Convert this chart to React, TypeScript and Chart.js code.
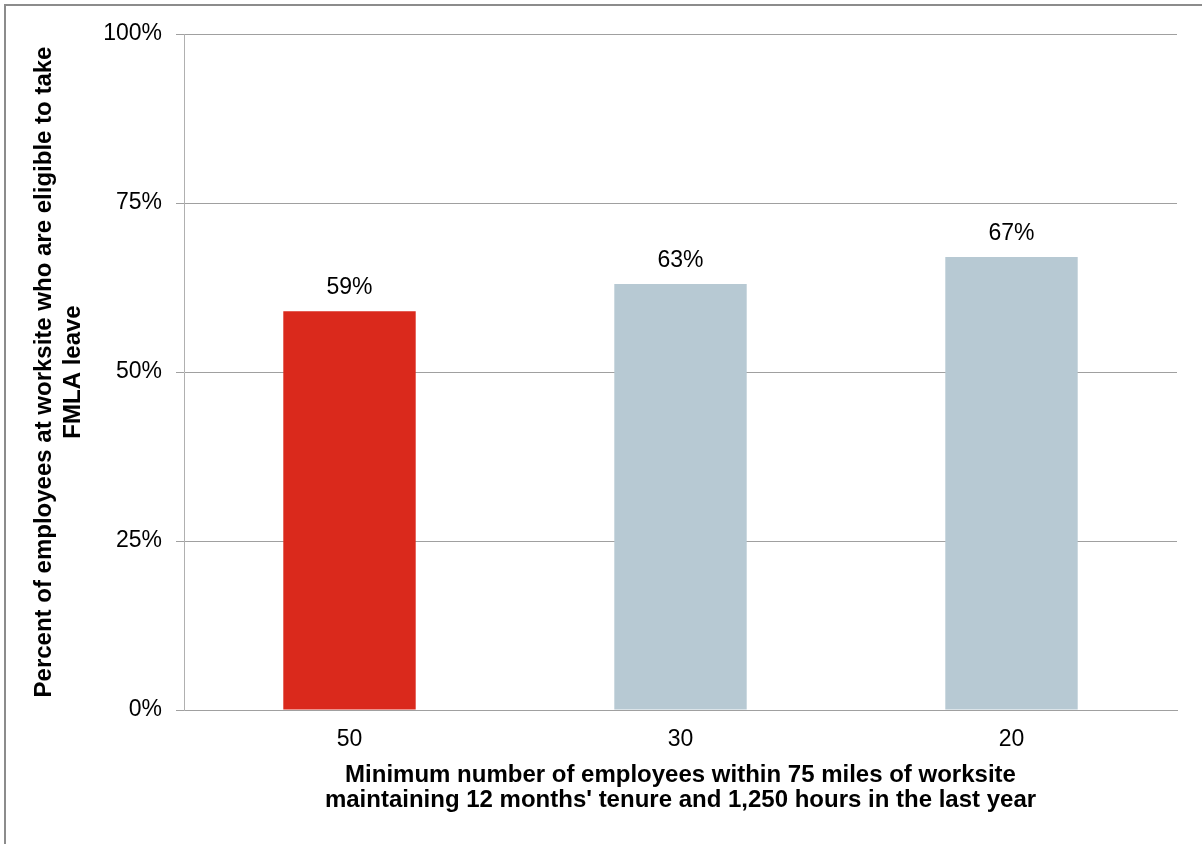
import React, { useEffect, useRef } from "react";
import { Chart, registerables } from "chart.js";

Chart.register(...registerables);

const categories = ["50", "30", "20"];
const values = [59, 63, 67];
const barColors = ["#DA291C", "#B7C9D3", "#B7C9D3"];
const yTicks = [0, 25, 50, 75, 100];
const yTitle = ["Percent of employees at worksite who are eligible to take", "FMLA leave"];
const xTitle = [
  "Minimum number of employees within 75 miles of worksite",
  "maintaining 12 months' tenure and 1,250 hours in the last year",
];

const FONT = "'Liberation Sans', Arial, sans-serif";

const dataLabels = {
  id: "dataLabels",
  afterDatasetsDraw(chart: any) {
    const ctx = chart.ctx;
    const meta = chart.getDatasetMeta(0);
    ctx.save();
    ctx.font = `23px ${FONT}`;
    ctx.fillStyle = "#000";
    ctx.textAlign = "center";
    ctx.textBaseline = "alphabetic";
    meta.data.forEach((bar: any, i: number) => {
      ctx.fillText(values[i] + "%", bar.x, bar.y - 17);
    });
    ctx.restore();
  },
};

export default function App() {
  const ref = useRef<HTMLCanvasElement | null>(null);
  useEffect(() => {
    if (!ref.current) return;
    const chart = new Chart(ref.current, {
      type: "bar",
      data: {
        labels: categories,
        datasets: [
          {
            data: values,
            backgroundColor: barColors,
            borderWidth: 0,
            barPercentage: 0.4,
            categoryPercentage: 1,
          },
        ],
      },
      options: {
        animation: false,
        responsive: false,
        maintainAspectRatio: false,
        layout: { padding: { left: 0, top: 34, right: 25, bottom: 0 } },
        plugins: { legend: { display: false }, tooltip: { enabled: false } },
        scales: {
          x: {
            grid: { display: false, drawTicks: false },
            border: { display: true, color: "#a0a0a0", width: 1 },
            ticks: { color: "#000", font: { family: FONT, size: 23 }, padding: 16 },
            title: {
              display: true,
              text: xTitle,
              color: "#000",
              font: { family: FONT, size: 24, weight: "bold", lineHeight: 1.05 },
              padding: { top: 0, bottom: 31 },
            },
            afterFit: (s: any) => {
              s.height = 134;
            },
          },
          y: {
            min: 0,
            max: 100,
            afterBuildTicks: (s: any) => {
              s.ticks = yTicks.map((v) => ({ value: v }));
            },
            grid: { color: "#a0a0a0", tickLength: 8, drawTicks: true },
            border: { display: true, color: "#b0b0b0", width: 1 },
            ticks: {
              color: "#000",
              font: { family: FONT, size: 23 },
              padding: 14,
              callback: (v: any) => v + "%",
            },
            title: {
              display: true,
              text: yTitle,
              color: "#000",
              font: { family: FONT, size: 24, weight: "bold", lineHeight: 1.2 },
              padding: { top: 30, bottom: 0 },
            },
            afterFit: (s: any) => {
              s.width = 184;
            },
          },
        },
      },
      plugins: [dataLabels],
    });
    return () => chart.destroy();
  }, []);

  return (
    <div
      style={{
        position: "fixed",
        left: 0,
        top: 0,
        width: 1202,
        height: 844,
        overflow: "hidden",
        background: "#fff",
      }}
    >
      <canvas
        ref={ref}
        width={1202}
        height={844}
        style={{ position: "absolute", left: 0, top: 0, width: 1202, height: 844 }}
      />
      <div
        style={{
          position: "absolute",
          left: 4,
          top: 4,
          width: 1300,
          height: 1000,
          border: "2px solid #8c8c8c",
          pointerEvents: "none",
        }}
      />
    </div>
  );
}
